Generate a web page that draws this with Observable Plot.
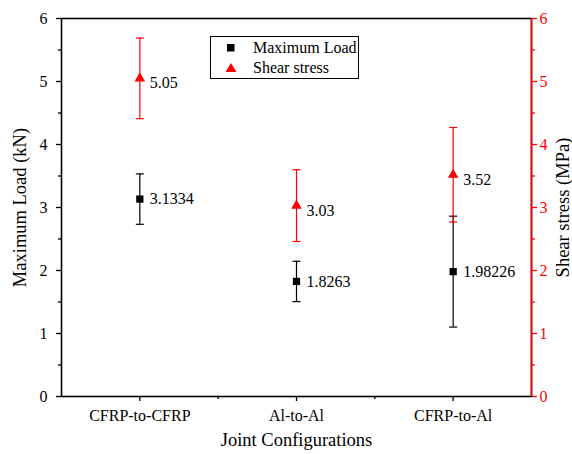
<!DOCTYPE html>
<html>
<head>
<meta charset="utf-8">
<script src="https://cdn.jsdelivr.net/npm/d3@7"></script>
<script src="https://cdn.jsdelivr.net/npm/@observablehq/plot@0.6"></script>
<style>
  body { margin: 0; background: #fff; }
  #wrap { position: relative; width: 572px; height: 454px; overflow: hidden; font-family: "Liberation Serif", "Times New Roman", "DejaVu Serif", serif; }
  #wrap svg text { font-family: "Liberation Serif", "Times New Roman", "DejaVu Serif", serif; }
  #legend { position: absolute; left: 210px; top: 36px; width: 147px; height: 41px; border: 1.3px solid #000; background: #fff; font-family: "Liberation Serif", "Times New Roman", "DejaVu Serif", serif; font-size: 16px; color: #000; }
  #legend .row { position: absolute; left: 0; height: 20px; line-height: 20px; white-space: nowrap; }
  #legend svg { position: absolute; left: 14px; top: 4px; }
  #legend span { position: absolute; left: 42px; font-family: "Liberation Serif", "Times New Roman", "DejaVu Serif", serif; }
</style>
</head>
<body>
<div id="wrap"></div>
<script>
const categories = ["CFRP-to-CFRP", "Al-to-Al", "CFRP-to-Al"];
const loadValues = [3.1334, 1.8263, 1.98226];
const loadErrors = [0.40, 0.32, 0.88];
const loadLabels = ["3.1334", "1.8263", "1.98226"];
const stressValues = [5.05, 3.03, 3.52];
const stressErrors = [0.64, 0.57, 0.75];
const stressLabels = ["5.05", "3.03", "3.52"];
const yTicks = [0, 1, 2, 3, 4, 5, 6];
const yMinorTicks = [0.5, 1.5, 2.5, 3.5, 4.5, 5.5];
const seriesNames = ["Maximum Load", "Shear stress"];
const xTitle = "Joint Configurations";
const yLeftTitle = "Maximum Load (kN)";
const yRightTitle = "Shear stress (MPa)";

const FONT = '"Liberation Serif", "Times New Roman", "DejaVu Serif", serif';

const xDomain = [0.5, categories.length + 0.5];
const xTicks = categories.map((c, i) => i + 1);
const xMinorTicks = categories.slice(1).map((c, i) => i + 1.5);

const load = categories.map((c, i) => ({pos: i + 1, v: loadValues[i], lo: loadValues[i] - loadErrors[i], hi: loadValues[i] + loadErrors[i], label: loadLabels[i]}));
const stress = categories.map((c, i) => ({pos: i + 1, v: stressValues[i], lo: stressValues[i] - stressErrors[i], hi: stressValues[i] + stressErrors[i], label: stressLabels[i]}));

const cap = {draw(ctx) { ctx.moveTo(-4, 0); ctx.lineTo(4, 0); }};

function errorMarks(data, color) {
  return [
    Plot.ruleX(data, {x: "pos", y1: "lo", y2: "hi", stroke: color, strokeWidth: 1.2}),
    Plot.dot(data, {x: "pos", y: "lo", symbol: cap, r: 4, stroke: color, strokeWidth: 1.2, fill: "none"}),
    Plot.dot(data, {x: "pos", y: "hi", symbol: cap, r: 4, stroke: color, strokeWidth: 1.2, fill: "none"})
  ];
}

const chart = Plot.plot({
  width: 572,
  height: 454,
  marginLeft: 61,
  marginRight: 41,
  marginTop: 18,
  marginBottom: 58,
  style: `font-family: ${FONT}; font-size: 15.5px; background: white; color: black; overflow: visible;`,
  x: {domain: xDomain, type: "linear"},
  y: {domain: [0, 6]},
  marks: [
    Plot.frame({stroke: "black", strokeWidth: 1.6}),
    Plot.axisY(yTicks, {anchor: "left", tickSize: 5, tickPadding: 9, strokeWidth: 1.3, tickFormat: d => d, label: null, fontFamily: FONT, fontSize: 16}),
    Plot.axisY(yMinorTicks, {anchor: "left", tickSize: 3, strokeWidth: 1.3, tickFormat: () => "", label: null}),
    Plot.axisY(yTicks, {anchor: "right", tickSize: 5, tickPadding: 3, strokeWidth: 1.3, color: "red", tickFormat: d => d, label: null, fontFamily: FONT, fontSize: 16}),
    Plot.axisY(yMinorTicks, {anchor: "right", tickSize: 3, strokeWidth: 1.3, color: "red", tickFormat: () => "", label: null}),
    Plot.ruleX([xDomain[1]], {stroke: "red", strokeWidth: 1.6}),
    Plot.axisX(xTicks, {anchor: "bottom", tickSize: 5, tickPadding: 8, strokeWidth: 1.3, tickFormat: d => categories[d - 1], label: null, fontFamily: FONT, fontSize: 16}),
    Plot.axisX(xMinorTicks, {anchor: "bottom", tickSize: 3, strokeWidth: 1.3, tickFormat: () => "", label: null}),
    ...errorMarks(load, "black"),
    ...errorMarks(stress, "red"),
    Plot.dot(load, {x: "pos", y: "v", symbol: "square", r: 4.1, fill: "black"}),
    Plot.dot(stress, {x: "pos", y: "v", symbol: "triangle", r: 3.9, fill: "red"}),
    Plot.text(load, {x: "pos", y: "v", text: "label", dx: 10, textAnchor: "start", fill: "black", fontSize: 16, fontFamily: FONT}),
    Plot.text(stress, {x: "pos", y: "v", text: "label", dx: 10, dy: 5, textAnchor: "start", fill: "black", fontSize: 16, fontFamily: FONT}),
    Plot.text([xTitle], {frameAnchor: "bottom", dy: 49, textAnchor: "middle", fontSize: 18.5, fill: "black", fontFamily: FONT}),
    Plot.text([yLeftTitle], {frameAnchor: "left", dx: -41, rotate: -90, textAnchor: "middle", fontSize: 18.5, fill: "black", fontFamily: FONT}),
    Plot.text([yRightTitle], {frameAnchor: "right", dx: 32, rotate: -90, textAnchor: "middle", fontSize: 18.5, fill: "black", fontFamily: FONT})
  ]
});

const wrap = document.getElementById("wrap");
wrap.appendChild(chart);

const legend = document.createElement("div");
legend.id = "legend";
legend.innerHTML =
  `<div class="row" style="top:1px;width:147px"><svg width="12" height="12"><rect x="2" y="2" width="7.5" height="7.5" fill="black"/></svg><span>${seriesNames[0]}</span></div>` +
  `<div class="row" style="top:21px;width:147px"><svg width="14" height="12"><polygon points="6,1 11.5,10 0.5,10" fill="red"/></svg><span>${seriesNames[1]}</span></div>`;
wrap.appendChild(legend);
</script>
</body>
</html>
